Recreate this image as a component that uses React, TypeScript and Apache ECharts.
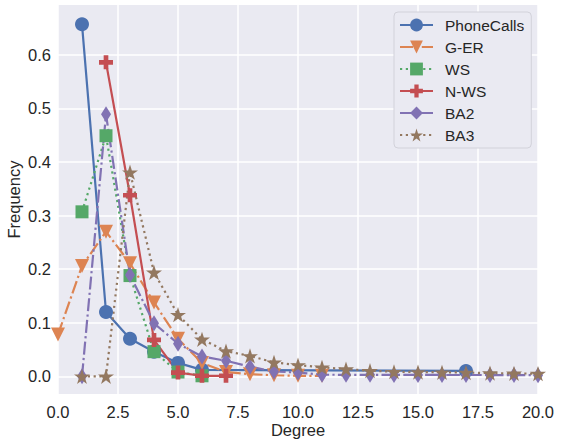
import React, { useEffect, useRef } from "react";
import * as echarts from "echarts";

const FONT = "'Liberation Sans', Arial, sans-serif";
const TEXT = "#262626";

const seriesNames = ["PhoneCalls", "G-ER", "WS", "N-WS", "BA2", "BA3"];

const phoneX = [1, 2, 3, 4, 5, 6, 17];
const phoneY = [0.657, 0.12, 0.07, 0.046, 0.025, 0.012, 0.01];

const gerX = [0, 1, 2, 3, 4, 5, 6, 7, 8, 9, 10, 11];
const gerY = [0.078, 0.206, 0.27, 0.211, 0.138, 0.07, 0.025, 0.008, 0.004, 0.002, 0.001, 0.001];

const wsX = [1, 2, 3, 4, 5, 6];
const wsY = [0.307, 0.449, 0.188, 0.046, 0.008, 0.001];

const nwsX = [2, 3, 4, 5, 6, 7];
const nwsY = [0.586, 0.338, 0.068, 0.007, 0.001, 0.001];

const ba2X = [1, 2, 3, 4, 5, 6, 7, 8, 9, 10, 11, 12, 13, 14, 15, 16, 17, 18, 19, 20];
const ba2Y = [0.0, 0.489, 0.189, 0.099, 0.061, 0.037, 0.029, 0.018, 0.009, 0.007, 0.003, 0.0028, 0.0027, 0.0026, 0.0026, 0.0025, 0.0025, 0.0024, 0.0023, 0.0022];

const ba3X = [1, 2, 3, 4, 5, 6, 7, 8, 9, 10, 11, 12, 13, 14, 15, 16, 17, 18, 19, 20];
const ba3Y = [0.0, 0.0, 0.381, 0.194, 0.115, 0.069, 0.047, 0.038, 0.026, 0.021, 0.0167, 0.0135, 0.0105, 0.0085, 0.008, 0.0075, 0.007, 0.006, 0.0055, 0.005];

const xTicks = [0, 2.5, 5, 7.5, 10, 12.5, 15, 17.5, 20];
const yTicks = [0, 0.1, 0.2, 0.3, 0.4, 0.5, 0.6];

const COLORS = ["#4C72B0", "#DD8452", "#55A868", "#C44E52", "#8172B3", "#937860"];

function starPath(): string {
  const pts: string[] = [];
  for (let i = 0; i < 10; i++) {
    const a = ((-90 + i * 36) * Math.PI) / 180;
    const r = i % 2 === 0 ? 1 : 0.382;
    pts.push(`${(r * Math.cos(a)).toFixed(4)},${(r * Math.sin(a)).toFixed(4)}`);
  }
  return "path://M" + pts.join("L") + "Z";
}

const PLUS = "path://M1,0H2V1H3V2H2V3H1V2H0V1H1Z";

const zip = (xs: number[], ys: number[]) => xs.map((x, i) => [x, ys[i]]);

const DASHDOT = [13, 3.3, 2.2, 3.3];
const DOTTED = [2.2, 3.6];

export default function App() {
  const ref = useRef<HTMLDivElement>(null);
  useEffect(() => {
    if (!ref.current) return;
    const chart = echarts.init(ref.current, undefined, { renderer: "svg" });
    const mk = (
      idx: number,
      data: number[][],
      symbol: string,
      size: number | number[],
      type: any,
      extra: any = {}
    ) => ({
      name: seriesNames[idx],
      type: "line",
      data,
      symbol,
      symbolSize: size,
      showAllSymbol: true,
      clip: true,
      color: COLORS[idx],
      itemStyle: { color: COLORS[idx] },
      lineStyle: { color: COLORS[idx], width: 2.2, type, cap: "butt" },
      emphasis: { disabled: true },
      ...extra,
    });
    chart.setOption({
      animation: false,
      backgroundColor: "#ffffff",
      grid: {
        left: 58,
        right: 28,
        top: 5,
        bottom: 47,
        show: true,
        backgroundColor: "#EAEAF2",
        borderWidth: 0,
        containLabel: false,
        outerBoundsMode: "none",
      },
      xAxis: {
        type: "value",
        min: 0,
        max: 20,
        interval: 2.5,
        name: "Degree",
        nameLocation: "middle",
        nameGap: 27,
        nameMoveOverlap: false,
        nameTextStyle: { fontFamily: FONT, fontSize: 16.5, color: TEXT },
        axisLine: { show: false },
        axisTick: { show: false },
        axisLabel: {
          fontFamily: FONT,
          fontSize: 16.5,
          color: TEXT,
          margin: 9,
          customValues: xTicks,
          formatter: (v: number) => v.toFixed(1),
        },
        splitLine: { show: true, lineStyle: { color: "#ffffff", width: 1.5 } },
      },
      yAxis: {
        type: "value",
        min: -0.033,
        max: 0.693,
        name: "Frequency",
        nameLocation: "middle",
        nameGap: 36,
        nameMoveOverlap: false,
        nameTextStyle: { fontFamily: FONT, fontSize: 16.5, color: TEXT },
        axisLine: { show: false },
        axisTick: { show: false, customValues: yTicks },
        axisLabel: {
          fontFamily: FONT,
          fontSize: 16.5,
          color: TEXT,
          margin: 7,
          customValues: yTicks,
          formatter: (v: number) => v.toFixed(1),
        },
        splitLine: { show: true, lineStyle: { color: "#ffffff", width: 1.5 } },
      },
      legend: {
        orient: "vertical",
        left: 394,
        top: 12,
        itemWidth: 33,
        itemHeight: 16,
        itemGap: 6,
        padding: [5, 7, 5, 5],
        backgroundColor: "#EAEAF2",
        borderColor: "#d2d2da",
        borderWidth: 1,
        borderRadius: 4,
        textStyle: {
          fontFamily: FONT,
          fontSize: 15.5,
          color: TEXT,
          lineHeight: 16,
          padding: [0, 0, 0, 7],
        },
        data: seriesNames,
      },
      series: [
        mk(0, zip(phoneX, phoneY), "circle", 14, "solid"),
        mk(1, zip(gerX, gerY), "triangle", 14, DASHDOT, { symbolRotate: 180 }),
        mk(2, zip(wsX, wsY), "rect", 13, DOTTED),
        mk(3, zip(nwsX, nwsY), PLUS, 14, "solid"),
        mk(4, zip(ba2X, ba2Y), "diamond", [10, 16], DASHDOT),
        mk(5, zip(ba3X, ba3Y), starPath(), 16, DOTTED, { symbolKeepAspect: true }),
      ],
    });
    return () => chart.dispose();
  }, []);
  return (
    <div
      ref={ref}
      style={{ position: "fixed", left: 0, top: 0, width: 566, height: 441 }}
    />
  );
}
